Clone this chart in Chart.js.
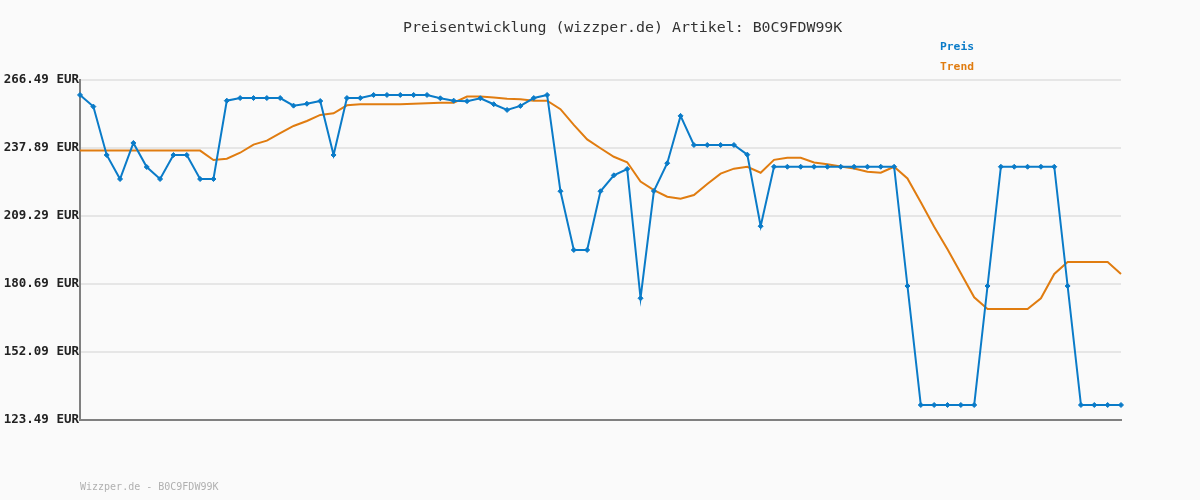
<!DOCTYPE html>
<html lang="de">
<head>
<meta charset="UTF-8">
<title>Preisentwicklung</title>
<style>
  body { margin: 0; background: #fafafa; }
  canvas { display: block; }
</style>
</head>
<body>
<canvas id="chart" width="1200" height="500"></canvas>
<script src="https://cdn.jsdelivr.net/npm/chart.js"></script>
<script>
// price history (EUR), one value per sample
const preis = [
  260.2, 255.3, 234.95, 224.85, 240.0, 229.9, 224.85, 234.95, 234.95, 224.85,
  224.85, 257.8, 258.9, 258.9, 258.9, 258.9, 255.7, 256.5, 257.65, 234.95,
  258.9, 258.9, 260.2, 260.2, 260.2, 260.2, 260.2, 258.8, 257.8, 257.6,
  258.8, 256.3, 253.9, 255.6, 258.9, 260.2, 219.7, 195.0, 195.0, 219.7,
  226.4, 229.06, 174.7, 219.8, 231.5, 251.4, 239.15, 239.15, 239.15, 239.15,
  235.1, 205.0, 230.0, 230.0, 230.0, 230.0, 230.0, 230.0, 230.0, 230.0,
  230.0, 230.0, 179.85, 129.8, 129.8, 129.8, 129.8, 129.8, 179.85, 230.0,
  230.0, 230.0, 230.0, 230.0, 179.85, 129.8, 129.8, 129.8, 129.8
];
const trend = [
  236.8, 236.8, 236.8, 236.8, 236.8, 236.8, 236.8, 236.8, 236.8, 236.8,
  232.85, 233.4, 235.9, 239.3, 241.0, 244.1, 247.15, 249.25, 251.8, 252.5,
  255.85, 256.3, 256.3, 256.3, 256.3, 256.5, 256.7, 256.9, 256.95, 259.5,
  259.5, 259.1, 258.6, 258.4, 257.8, 257.8, 254.2, 247.6, 241.5, 237.8,
  234.2, 231.9, 223.8, 220.2, 217.4, 216.6, 218.1, 222.75, 227.1, 229.2,
  230.0, 227.5, 232.9, 233.8, 233.8, 231.8, 231.1, 230.1, 229.3, 227.9,
  227.5, 230.0, 225.1, 215.05, 204.8, 195.3, 185.2, 175.1, 170.2, 170.2,
  170.2, 170.2, 174.7, 184.9, 189.9, 189.9, 189.9, 189.9, 184.9
];
const yTicks = [123.49, 152.09, 180.69, 209.29, 237.89, 266.49];
const labels = preis.map((_, i) => String(i + 1));

const BLUE = '#0a7bc8';
const ORANGE = '#e07c10';
const MONO = '"DejaVu Sans Mono", "Liberation Mono", monospace';

// title, legend and footer drawn as text on the canvas
const textPlugin = {
  id: 'texts',
  afterDraw(chart) {
    const c = chart.ctx;
    c.save();
    c.textBaseline = 'middle';
    c.textAlign = 'left';
    c.fillStyle = '#333';
    c.font = '14.9px ' + MONO;
    c.fillText('Preisentwicklung (wizzper.de) Artikel: B0C9FDW99K', 403, 28);
    c.font = 'bold 11.3px ' + MONO;
    c.fillStyle = BLUE;
    c.fillText('Preis', 940, 47);
    c.fillStyle = ORANGE;
    c.fillText('Trend', 940, 67);
    c.font = '10px ' + MONO;
    c.fillStyle = '#b0b0b0';
    c.fillText('Wizzper.de - B0C9FDW99K', 80, 487);
    c.restore();
  }
};

new Chart(document.getElementById('chart'), {
  type: 'line',
  data: {
    labels: labels,
    datasets: [
      {
        label: 'Preis',
        data: preis,
        borderColor: BLUE,
        backgroundColor: BLUE,
        borderWidth: 2,
        pointStyle: 'rectRot',
        pointRadius: 2.5,
        pointBorderWidth: 1,
        tension: 0,
        clip: false,
        order: 1
      },
      {
        label: 'Trend',
        data: trend,
        borderColor: ORANGE,
        borderWidth: 2,
        pointRadius: 0,
        tension: 0,
        clip: false,
        order: 2
      }
    ]
  },
  options: {
    responsive: false,
    animation: false,
    layout: { padding: { left: 0, top: 80, right: 79, bottom: 80 } },
    plugins: {
      legend: { display: false },
      title: { display: false },
      tooltip: { enabled: false }
    },
    scales: {
      x: {
        offset: false,
        grid: { display: false, drawTicks: false },
        ticks: { display: false },
        border: { display: true, color: '#808080', width: 2 },
        afterFit: s => { s.height = 0; }
      },
      y: {
        min: 123.49,
        max: 266.49,
        afterBuildTicks: s => { s.ticks = yTicks.map(v => ({ value: v })); },
        afterFit: s => { s.width = 80; },
        grid: { color: '#e6e6e6', lineWidth: 2, drawTicks: false },
        border: { display: true, color: '#808080', width: 2 },
        ticks: {
          padding: 1,
          color: '#222',
          font: { family: MONO, size: 12.5, weight: 'bold' },
          callback: v => v.toFixed(2) + ' EUR'
        }
      }
    }
  },
  plugins: [textPlugin]
});
</script>
</body>
</html>
